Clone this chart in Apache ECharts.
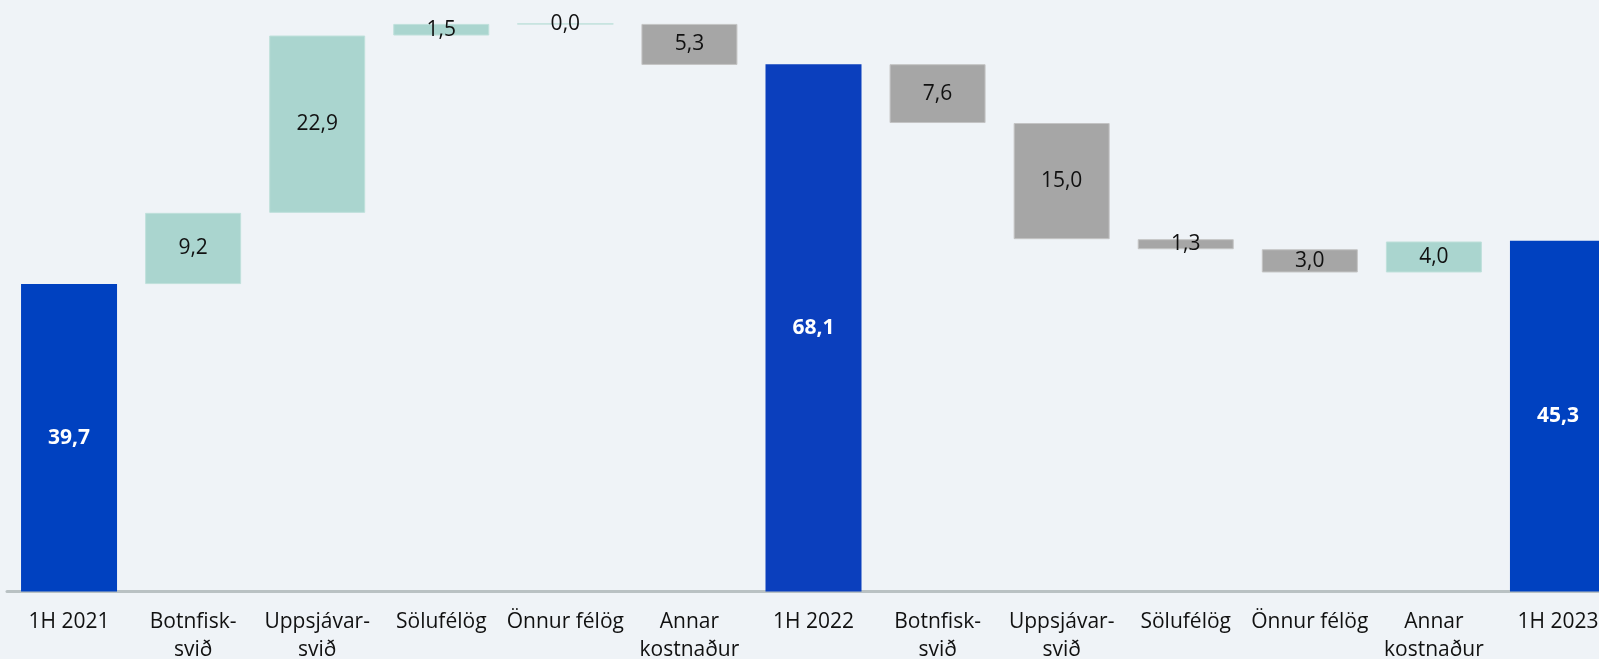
<!DOCTYPE html>
<html><head><meta charset="utf-8">
<script src="https://cdn.jsdelivr.net/npm/echarts@6/dist/echarts.min.js"></script>
<style>html,body{margin:0;padding:0;background:#eff3f7;overflow:hidden;width:1599px;height:659px;}#c{width:1620px;height:659px;}</style>
</head><body><div id="c"></div>
<script>
const categories = ['1H 2021','Botnfisk-\nsvið','Uppsjávar-\nsvið','Sölufélög','Önnur félög','Annar\nkostnaður','1H 2022','Botnfisk-\nsvið','Uppsjávar-\nsvið','Sölufélög','Önnur félög','Annar\nkostnaður','1H 2023'];
// changes (null for totals)
const changes = [null, 9.2, 22.9, 1.5, 0.0, -5.3, null, -7.6, -15.0, -1.3, -3.0, 4.0, null];
const totals = [39.7, null, null, null, null, null, 68.1, null, null, null, null, null, 45.3];

const C_UP = '#aad5cf', C_DOWN = '#a6a6a6', C_TOT = ['#0041c0','#0b3fbd','#0041c0'];
const FONT = '"Open Sans", sans-serif';
const baseData = [], visData = [];
let running = 0, ti = 0;
categories.forEach((c, i) => {
  if (totals[i] !== null) {
    running = totals[i];
    baseData.push(0);
    visData.push({value: totals[i], label: {show: true, color: '#fff', fontWeight: 'bold', formatter: totals[i].toFixed(1).replace('.', ',')},
      itemStyle: {color: C_TOT[ti++]}});
  } else {
    const d = changes[i];
    const lo = d >= 0 ? running : running + d;
    baseData.push(lo);
    running += d;
    const col = d >= 0 ? C_UP : C_DOWN;
    visData.push({value: Math.abs(d), label: {show: true, color: '#111', formatter: Math.abs(d).toFixed(1).replace('.', ',')},
      itemStyle: {color: col, borderColor: d >= 0 ? '#bfe0db' : '#c4c4c4', borderWidth: 1}});
  }
});

const chart = echarts.init(document.getElementById('c'));
chart.setOption({
  backgroundColor: '#eff3f7',
  animation: false,
  textStyle: {fontFamily: FONT},
  grid: {left: 7, right: 0, top: 3, bottom: 67.5, containLabel: false, outerBoundsMode: 'none'},
  xAxis: {type: 'category', data: categories,
    axisLine: {lineStyle: {color: '#b9c1c3', width: 3}},
    axisTick: {show: false},
    axisLabel: {color: '#111', fontSize: 21, lineHeight: 28, margin: 17, interval: 0, fontFamily: FONT}},
  yAxis: {type: 'value', min: 0, max: 76, show: false, splitLine: {show: false}},
  series: [
    {type: 'bar', stack: 'w', data: baseData, itemStyle: {color: 'transparent'}, barWidth: 96, silent: true},
    {type: 'bar', stack: 'w', data: visData, barWidth: 96,
      label: {show: true, position: 'inside', fontSize: 21, fontFamily: FONT}}
  ]
});
</script></body></html>
